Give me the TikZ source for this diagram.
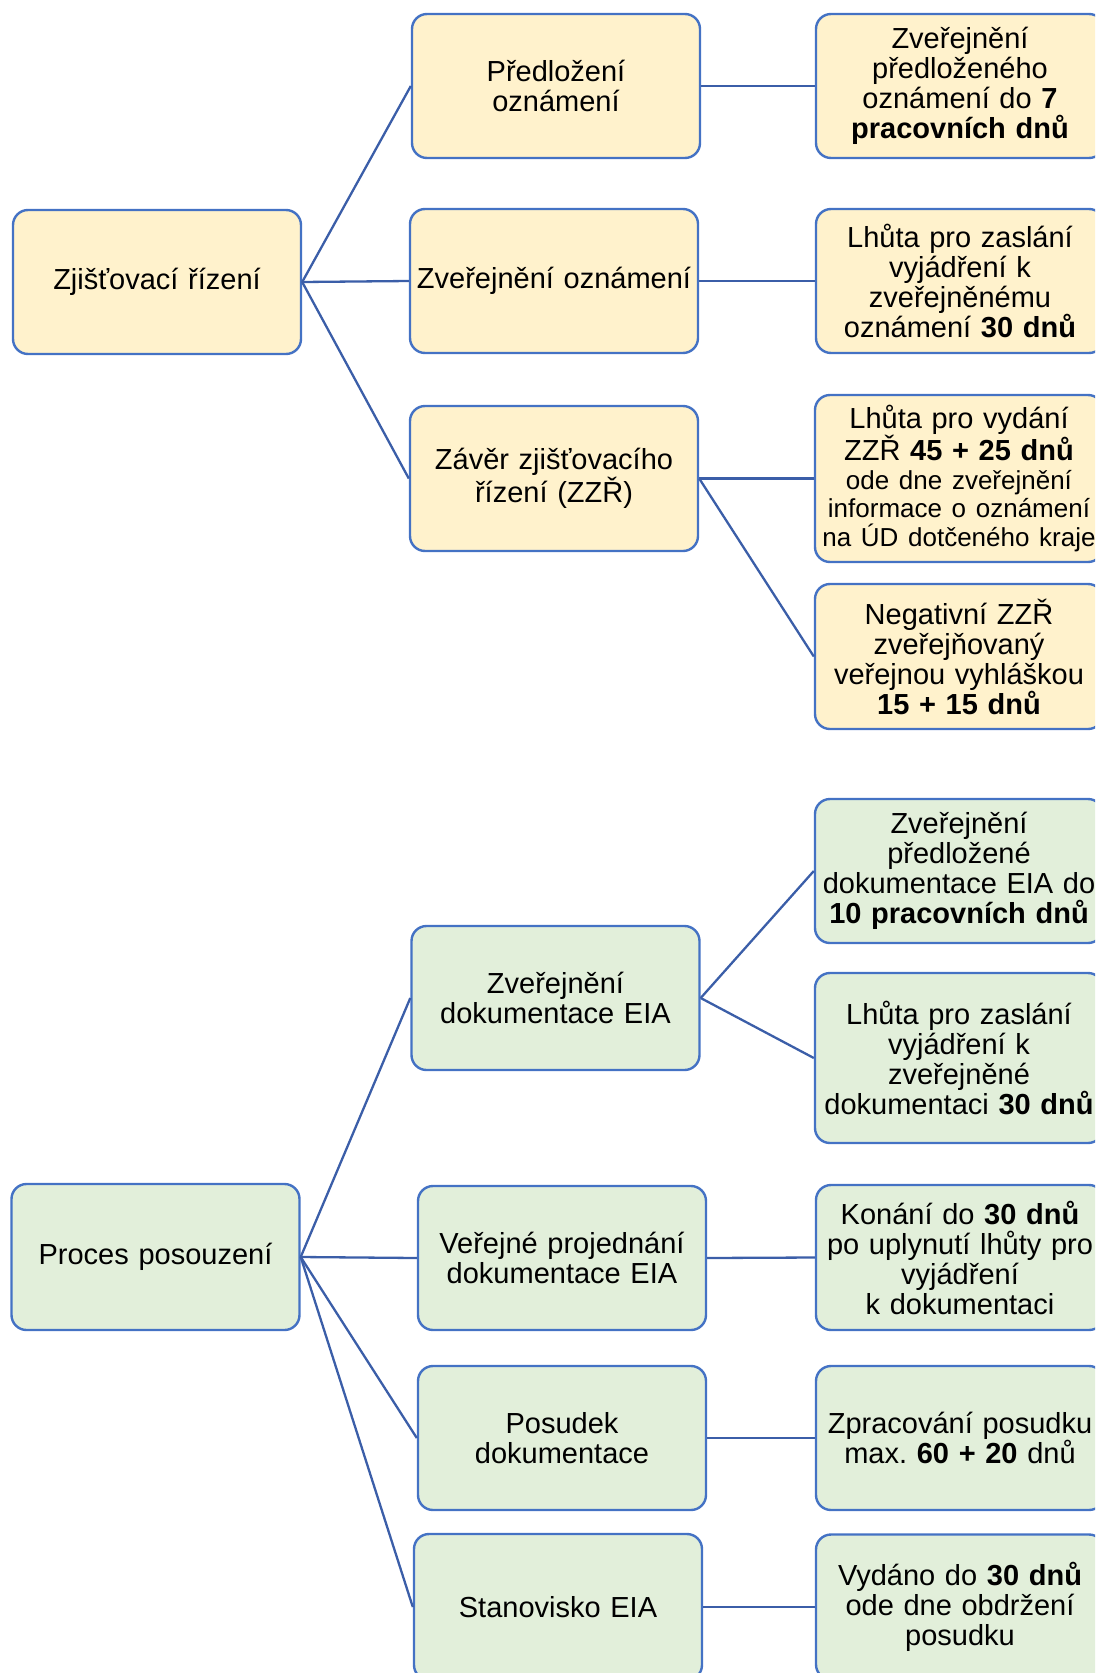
\documentclass[tikz,border=0pt]{standalone}
\usepackage{fontspec}
\setmainfont{Liberation Sans}
\frenchspacing
\definecolor{yfill}{HTML}{FFF2CC}
\definecolor{gfill}{HTML}{E2EFDA}
\definecolor{bord}{HTML}{4472C4}
\definecolor{conn}{HTML}{3B5EA8}
\tikzset{
  box/.style={draw=bord, line width=2.4pt, rounded corners=15pt, text width=284pt, inner xsep=2pt, inner ysep=0pt,
    align=center, minimum width=288pt, minimum height=144pt, font=\fontsize{29pt}{30pt}\selectfont\frenchspacing, text=black},
  ybox/.style={box, fill=yfill},
  gbox/.style={box, fill=gfill},
  link/.style={draw=conn, line width=2.3pt}
}
\newcommand{\smallln}{\fontsize{26pt}{28.5pt}\selectfont}
\begin{document}
\begin{tikzpicture}[x=1pt,y=-1pt]
\useasboundingbox (0,0) rectangle (1095,1673);
\clip (0,0) rectangle (1095,1673);
% top group
\node[ybox] (A) at (157,282) {Zjišťovací řízení};
\node[ybox] (B1) at (556,86) {Předložení\\oznámení};
\node[ybox] (B2) at (554,281) {Zveřejnění oznámení};
\node[ybox, minimum height=145pt] (B3) at (554,478.5) {Závěr zjišťovacího\\řízení (ZZŘ)};
\node[ybox] (C1) at (960,86) {Zveřejnění\\předloženého\\oznámení do \textbf{7}\\\textbf{pracovních dnů}};
\node[ybox] (C2) at (960,281) {Lhůta pro zaslání\\vyjádření k\\zveřejněnému\\oznámení \textbf{30 dnů}};
\node[ybox, minimum height=167pt, font=\fontsize{29pt}{28.5pt}\selectfont\frenchspacing] (C3) at (959,478.5) {Lhůta pro vydání\\ZZŘ \textbf{45 + 25 dnů}\\\smallln ode dne zveřejnění\\informace o oznámení\\na ÚD dotčeného kraje};
\node[ybox, minimum height=145pt] (C4) at (959,656.5) {Negativní ZZŘ\\zveřejňovaný\\veřejnou vyhláškou\\\textbf{15 + 15 dnů}};
% bottom group
\node[gbox, minimum height=146pt] (D) at (155.5,1257) {Proces posouzení};
\node[gbox] (E1) at (555.5,998) {Zveřejnění\\dokumentace EIA};
\node[gbox] (E2) at (562,1258) {Veřejné projednání\\dokumentace EIA};
\node[gbox] (E3) at (562,1438) {Posudek\\dokumentace};
\node[gbox, minimum height=146pt] (E4) at (558,1607) {Stanovisko EIA};
\node[gbox] (F1) at (959,871) {Zveřejnění\\předložené\\dokumentace EIA do\\\textbf{10 pracovních dnů}};
\node[gbox, minimum height=170pt] (F2) at (959,1058) {Lhůta pro zaslání\\vyjádření k\\zveřejněné\\dokumentaci \textbf{30 dnů}};
\node[gbox, minimum height=145pt] (F3) at (960,1257.5) {Konání do \textbf{30 dnů}\\po uplynutí lhůty pro\\vyjádření\\k dokumentaci};
\node[gbox] (F4) at (960,1438) {Zpracování posudku\\max. \textbf{60 + 20} dnů};
\node[gbox, minimum height=145pt] (F5) at (960,1607) {Vydáno do \textbf{30 dnů}\\ode dne obdržení\\posudku};
% connectors
\draw[link] (A.east) -- (B1.west);
\draw[link] (A.east) -- (B2.west);
\draw[link] (A.east) -- (B3.west);
\draw[link] (B1.east) -- (C1.west);
\draw[link] (B2.east) -- (C2.west);
\draw[link] (B3.east) -- (C3.west);
\draw[link] (B3.east) -- (C4.west);
\draw[link] (D.east) -- (E1.west);
\draw[link] (D.east) -- (E2.west);
\draw[link] (D.east) -- (E3.west);
\draw[link] (D.east) -- (E4.west);
\draw[link] (E1.east) -- (F1.west);
\draw[link] (E1.east) -- (F2.west);
\draw[link] (E2.east) -- (F3.west);
\draw[link] (E3.east) -- (F4.west);
\draw[link] (E4.east) -- (F5.west);
\end{tikzpicture}
\end{document}
